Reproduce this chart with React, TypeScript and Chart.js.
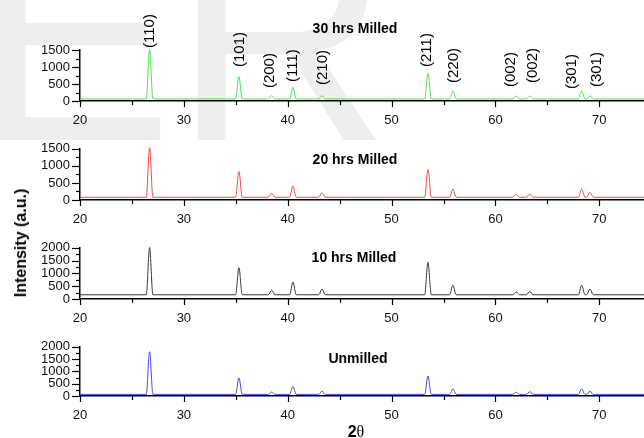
import React, { useEffect, useRef } from 'react';
import { Chart, registerables } from 'chart.js';

Chart.register(...registerables);

const FONT = "'Liberation Sans', Arial, Helvetica, sans-serif";

// ---- axis ----
const X_MIN = 20;
const X_MAX = 74.3;
const X_MAJOR = [20, 30, 40, 50, 60, 70];
const X_MINOR = [25, 35, 45, 55, 65];
const Y_STEP = 500;
const Y_MINOR_STEP = 250;

// ---- peaks (2θ) and Miller indices ----
const PEAK_2THETA = [26.7, 35.3, 38.45, 40.5, 43.3, 53.5, 55.9, 62.0, 63.3, 68.3, 69.1];
const HKL = ['(110)', '(101)', '(200)', '(111)', '(210)', '(211)', '(220)', '(002)', '(002)', '(301)', '(301)'];
// label anchor positions (2θ, intensity on the top panel's scale)
const HKL_LABEL_2THETA = [26.7, 35.4, 38.3, 40.5, 43.4, 53.4, 56.0, 61.5, 63.6, 67.4, 69.8];
const HKL_LABEL_INTENSITY = [1560, 1000, 380, 560, 470, 1000, 530, 410, 530, 350, 410];

// ---- series: peak intensities ----
const SERIES_NAMES = ['30 hrs Milled', '20 hrs Milled', '10 hrs Milled', 'Unmilled'];
const MILLED_30H = [1510, 714, 156, 402, 156, 814, 294, 147, 147, 294, 156];
const MILLED_20H = [1530, 841, 194, 415, 212, 900, 320, 174, 174, 320, 223];
const MILLED_10H = [2010, 1220, 346, 666, 385, 1435, 540, 280, 300, 540, 385];
const UNMILLED = [1800, 742, 165, 385, 192, 808, 296, 154, 180, 296, 192];
const BACKGROUND = [60, 80, 165, 65];
const Y_MAX = [1500, 1500, 2000, 2000];
const SERIES = [MILLED_30H, MILLED_20H, MILLED_10H, UNMILLED];
const COLORS = ['#4fe04f', '#f04848', '#3a3a3a', '#4848f4'];

const PEAK_HALF_WIDTH = 0.32;

// layout of the four stacked panels (canvas top, canvas height, plot top inside canvas)
const PANELS = [
  { top: 0, height: 131, padTop: 50 },
  { top: 131, height: 99, padTop: 17 },
  { top: 230, height: 99, padTop: 17 },
  { top: 329, height: 97, padTop: 15 },
];
const X_AXIS_H = 30;
const Y_AXIS_W = 80;

const TITLES = [
  { x: 355, y: 28 },
  { x: 355, y: 159 },
  { x: 354, y: 257 },
  { x: 358, y: 358 },
];

function buildPattern(heights: number[], base: number) {
  const pts: { x: number; y: number }[] = [{ x: X_MIN, y: base }];
  PEAK_2THETA.forEach((p, i) => {
    pts.push({ x: p - PEAK_HALF_WIDTH, y: base });
    pts.push({ x: p, y: heights[i] });
    pts.push({ x: p + PEAK_HALF_WIDTH, y: base });
  });
  pts.push({ x: X_MAX, y: base });
  return pts;
}

const tickPlugin = {
  id: 'xrdTicks',
  afterDraw(chart: any) {
    const { ctx, chartArea, scales } = chart;
    const x = scales.x;
    const y = scales.y;
    ctx.save();
    ctx.strokeStyle = '#000';
    ctx.lineWidth = 1.2;
    [...X_MAJOR, ...X_MINOR].forEach((v) => {
      const px = Math.round(x.getPixelForValue(v)) + 0.5;
      const len = X_MAJOR.includes(v) ? 6 : 4;
      ctx.beginPath();
      ctx.moveTo(px, chartArea.bottom);
      ctx.lineTo(px, chartArea.bottom + len);
      ctx.stroke();
    });
    for (let v = 0; v <= y.max; v += Y_MINOR_STEP) {
      const py = Math.round(y.getPixelForValue(v)) + 0.5;
      const len = v % Y_STEP === 0 ? 8 : 4;
      ctx.beginPath();
      ctx.moveTo(chartArea.left - len, py);
      ctx.lineTo(chartArea.left, py);
      ctx.stroke();
    }
    ctx.restore();
  },
};

const hklPlugin = {
  id: 'hklLabels',
  afterDraw(chart: any) {
    const { ctx, scales } = chart;
    ctx.save();
    ctx.fillStyle = '#000';
    ctx.font = `15px ${FONT}`;
    ctx.textAlign = 'left';
    ctx.textBaseline = 'middle';
    HKL.forEach((t, i) => {
      const px = scales.x.getPixelForValue(HKL_LABEL_2THETA[i]);
      const py = scales.y.getPixelForValue(HKL_LABEL_INTENSITY[i]);
      ctx.save();
      ctx.translate(px, py);
      ctx.rotate(-Math.PI / 2);
      ctx.fillText(t, 0, 0);
      ctx.restore();
    });
    ctx.restore();
  },
};

function Panel({ index }: { index: number }) {
  const ref = useRef<HTMLCanvasElement | null>(null);
  const p = PANELS[index];
  useEffect(() => {
    if (!ref.current) return;
    const plugins: any[] = [tickPlugin];
    if (index === 0) plugins.push(hklPlugin);
    const yTicks: number[] = [];
    for (let v = 0; v <= Y_MAX[index]; v += Y_STEP) yTicks.push(v);
    const chart = new Chart(ref.current, {
      type: 'line',
      data: {
        datasets: [
          {
            label: SERIES_NAMES[index],
            data: buildPattern(SERIES[index], BACKGROUND[index]),
            borderColor: COLORS[index],
            borderWidth: 1,
            pointRadius: 0,
            cubicInterpolationMode: 'monotone',
            fill: false,
            clip: false as any,
          },
        ],
      },
      options: {
        responsive: false,
        animation: false,
        devicePixelRatio: 1,
        layout: { padding: { top: p.padTop, left: 0, right: 0, bottom: 0 } },
        plugins: { legend: { display: false }, tooltip: { enabled: false }, title: { display: false } },
        scales: {
          x: {
            type: 'linear',
            min: X_MIN,
            max: X_MAX,
            afterBuildTicks: (s: any) => {
              s.ticks = X_MAJOR.map((v) => ({ value: v }));
            },
            afterFit: (s: any) => {
              s.height = X_AXIS_H;
            },
            grid: { display: false, drawTicks: false },
            border: { display: true, color: '#000', width: 1.5 },
            ticks: {
              font: { family: FONT, size: 13 },
              color: '#111',
              padding: 12,
              maxRotation: 0,
              autoSkip: false,
              callback: (v: any) => String(v),
            },
          },
          y: {
            min: 0,
            max: Y_MAX[index],
            afterBuildTicks: (s: any) => {
              s.ticks = yTicks.map((v) => ({ value: v }));
            },
            afterFit: (s: any) => {
              s.width = Y_AXIS_W;
            },
            grid: { display: false, drawTicks: false },
            border: { display: true, color: '#000', width: 1.5 },
            ticks: {
              font: { family: FONT, size: 13 },
              color: '#111',
              padding: 10,
              autoSkip: false,
              callback: (v: any) => String(v),
            },
          },
        },
      } as any,
      plugins,
    });
    return () => chart.destroy();
  }, [index]);
  return (
    <canvas
      ref={ref}
      width={644}
      height={p.height}
      style={{ position: 'absolute', left: 0, top: p.top, width: 644, height: p.height }}
    />
  );
}

export default function App() {
  return (
    <div
      style={{
        position: 'absolute',
        left: 0,
        top: 0,
        width: 644,
        height: 438,
        overflow: 'hidden',
        background: '#fff',
        fontFamily: FONT,
      }}
    >
      <div
        style={{
          position: 'absolute',
          left: -27,
          top: -114,
          fontSize: 300,
          lineHeight: 1,
          color: '#eeeeee',
          fontFamily: FONT,
          whiteSpace: 'nowrap',
        }}
      >
        ER
      </div>
      {PANELS.map((_, i) => (
        <Panel key={i} index={i} />
      ))}
      {SERIES_NAMES.map((t, i) => (
        <div
          key={t}
          style={{
            position: 'absolute',
            left: TITLES[i].x,
            top: TITLES[i].y,
            transform: 'translate(-50%, -50%)',
            fontWeight: 'bold',
            fontSize: 14,
            whiteSpace: 'nowrap',
            color: '#000',
          }}
        >
          {t}
        </div>
      ))}
      <div
        style={{
          position: 'absolute',
          left: 21,
          top: 243,
          transform: 'translate(-50%, -50%) rotate(-90deg)',
          fontWeight: 'bold',
          fontSize: 16,
          whiteSpace: 'nowrap',
          color: '#000',
        }}
      >
        Intensity (a.u.)
      </div>
      <div
        style={{
          position: 'absolute',
          left: 356,
          top: 432,
          transform: 'translate(-50%, -50%)',
          fontSize: 16,
          whiteSpace: 'nowrap',
          color: '#000',
        }}
      >
        <b>2</b>
        <span style={{ fontFamily: "'Liberation Serif', serif" }}>θ</span>
      </div>
    </div>
  );
}
